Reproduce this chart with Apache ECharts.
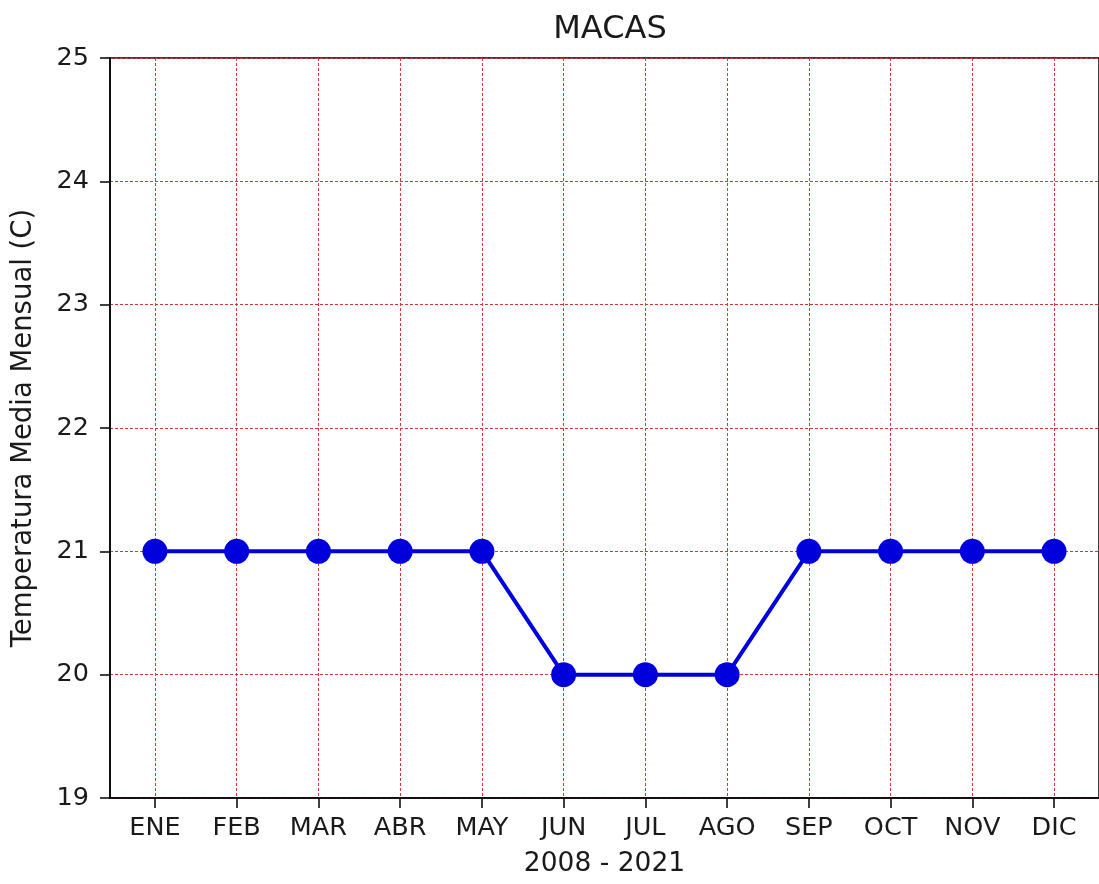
<!DOCTYPE html>
<html>
<head>
<meta charset="utf-8">
<script src="https://cdn.jsdelivr.net/npm/echarts@6/dist/echarts.min.js"></script>
<style>
  html, body { margin: 0; padding: 0; background: #fff; }
  #chart { width: 1099px; height: 884px; }
</style>
</head>
<body>
<div id="chart"></div>
<script>
const months = ['ENE', 'FEB', 'MAR', 'ABR', 'MAY', 'JUN', 'JUL', 'AGO', 'SEP', 'OCT', 'NOV', 'DIC'];
const temps = [21, 21, 21, 21, 21, 20, 20, 20, 21, 21, 21, 21];
const yTicks = [19, 20, 21, 22, 23, 24, 25];
const titleText = 'MACAS';
const xName = '2008 - 2021';
const yName = 'Temperatura Media Mensual (C)';

const monthIdx = months.map((m, i) => i);
const font = 'DejaVu Sans';
const textColor = '#1a1a1a';
const gridLine = { show: true, lineStyle: { color: '#cc3a3a', width: 1, type: [3, 2] } };

const chart = echarts.init(document.getElementById('chart'), null, { renderer: 'canvas' });
chart.setOption({
  animation: false,
  backgroundColor: '#ffffff',
  title: {
    text: titleText,
    left: 605, top: 9,
    textAlign: 'center',
    textStyle: { fontFamily: font, fontSize: 32, fontWeight: 'normal', color: textColor }
  },
  grid: {
    left: 110, top: 58, width: 996, height: 740,
    show: true, borderColor: '#000', borderWidth: 1.5, backgroundColor: 'transparent'
  },
  xAxis: {
    type: 'value',
    min: -0.55, max: 11.55,
    name: xName,
    nameLocation: 'middle',
    nameGap: 53,
    nameTextStyle: { fontFamily: font, fontSize: 26.5, color: textColor },
    axisLine: { show: true, onZero: false, lineStyle: { color: '#000', width: 1.5 } },
    axisTick: { show: true, length: 10, customValues: monthIdx, lineStyle: { color: '#000', width: 1.5 } },
    axisLabel: {
      customValues: monthIdx,
      formatter: v => months[Math.round(v)] || '',
      fontFamily: font, fontSize: 25.5, color: textColor, margin: 17
    },
    splitLine: gridLine
  },
  yAxis: {
    type: 'value',
    min: yTicks[0], max: yTicks[yTicks.length - 1], interval: 1,
    name: yName,
    nameLocation: 'middle',
    nameGap: 72,
    nameTextStyle: { fontFamily: font, fontSize: 27.5, color: textColor },
    axisLine: { show: true, onZero: false, lineStyle: { color: '#000', width: 1.5 } },
    axisTick: { show: true, length: 10, lineStyle: { color: '#000', width: 1.5 } },
    axisLabel: { fontFamily: font, fontSize: 25.5, color: textColor, margin: 21 },
    splitLine: gridLine
  },
  series: [{
    type: 'line',
    data: temps.map((t, i) => [monthIdx[i], t]),
    symbol: 'circle',
    symbolSize: 25,
    lineStyle: { color: '#0000dd', width: 4 },
    itemStyle: { color: '#0000dd' },
    z: 5
  }]
});
</script>
</body>
</html>
